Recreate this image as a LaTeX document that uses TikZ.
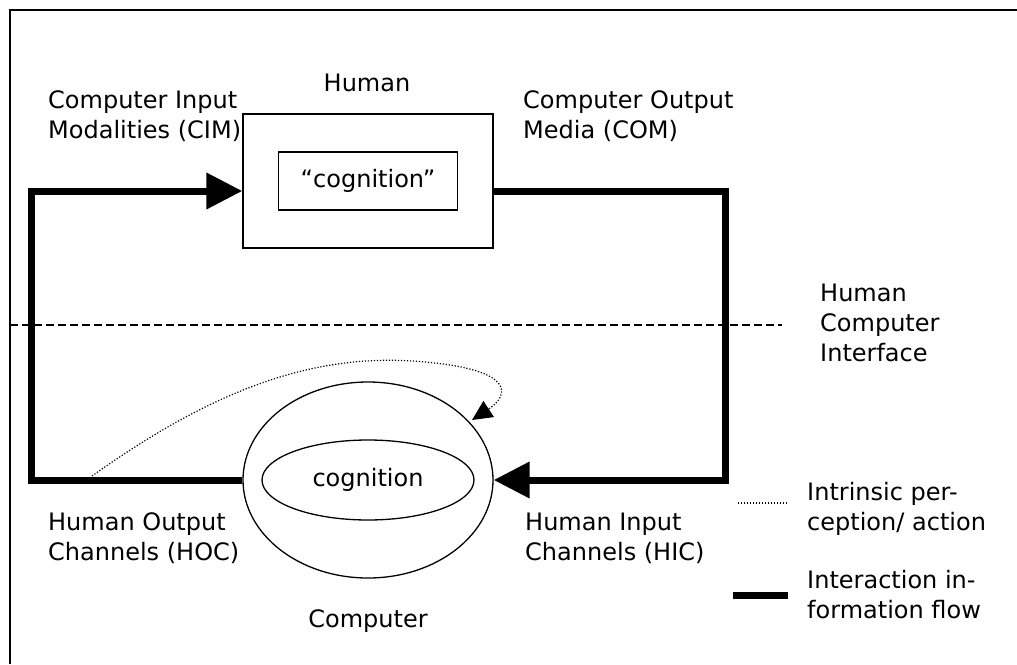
\documentclass[tikz,border=0pt]{standalone}
\usepackage{fontspec}
\setmainfont{DejaVu Sans}
\usetikzlibrary{arrows.meta,shapes.geometric}

\begin{document}
\begin{tikzpicture}[x=1pt, y=-1pt,
                    every node/.style={font=\fontsize{24}{30}\selectfont, inner sep=0pt},
                    label/.style={anchor=base west, align=left},
                    thinbox/.style={draw, line width=1.3pt},
                    flow/.style={line width=7pt},
                    bigtip/.style={-{Triangle[length=36pt, width=35pt]}},
                    intrinsic/.style={line width=1.2pt, dash pattern=on 1.2pt off 1.8pt}]
  \useasboundingbox (0,0) rectangle (1017,664);
  \draw[line width=1.3pt] (10,664) -- (10,10) -- (1017,10);

  \node[thinbox, minimum width=250pt, minimum height=134pt] (human) at (368,181) {};
  \node[thinbox, minimum width=179pt, minimum height=58pt] (thought) at (368,181) {“cognition”};
  \node[anchor=base] (humanlbl) at (367,91) {Human};

  \node[thinbox, ellipse, minimum width=250pt, minimum height=196pt] (computer) at (368,480) {};
  \node[thinbox, ellipse, minimum width=212pt, minimum height=80pt] (cognition) at (368,480) {cognition};
  \node[anchor=base] (computerlbl) at (368,627) {Computer};

  \node[label] (cim) at (48,138) {Computer Input\\Modalities (CIM)};
  \node[label] (com) at (523,138) {Computer Output\\Media (COM)};
  \node[label] (hoc) at (48,560) {Human Output\\Channels (HOC)};
  \node[label] (hic) at (525,560) {Human Input\\Channels (HIC)};
  \node[label] (hci) at (820,361) {Human\\Computer\\Interface};

  \coordinate (loopL) at (31,191);
  \coordinate (loopR) at (725,191);
  \draw[flow, bigtip] (computer.west) -| (loopL) -- (human.west |- loopL);
  \draw[flow, bigtip] (human.east |- loopR) -- (loopR) |- (computer.east);

  \coordinate (hciL) at (10,325);
  \coordinate (hciR) at (782,325);
  \draw[line width=1.3pt, dash pattern=on 8pt off 4pt] (hciL) -- (hciR);

  \coordinate (selfstart) at (92,476);
  \draw[intrinsic, -{Triangle[length=20pt, width=19pt]}]
    (selfstart) .. controls (220,385) and (320,352) .. (425,362)
    .. controls (515,370) and (510,395) .. (472,420);

  \node[label] (legdot) at (807,530) {Intrinsic per-\\ception/ action};
  \node[label] (legflow) at (807,618) {Interaction in-\\formation flow};
  \draw[intrinsic] (738,503) -- (787,503);
  \draw[flow] (733,595) -- (788,595);
\end{tikzpicture}
\end{document}
